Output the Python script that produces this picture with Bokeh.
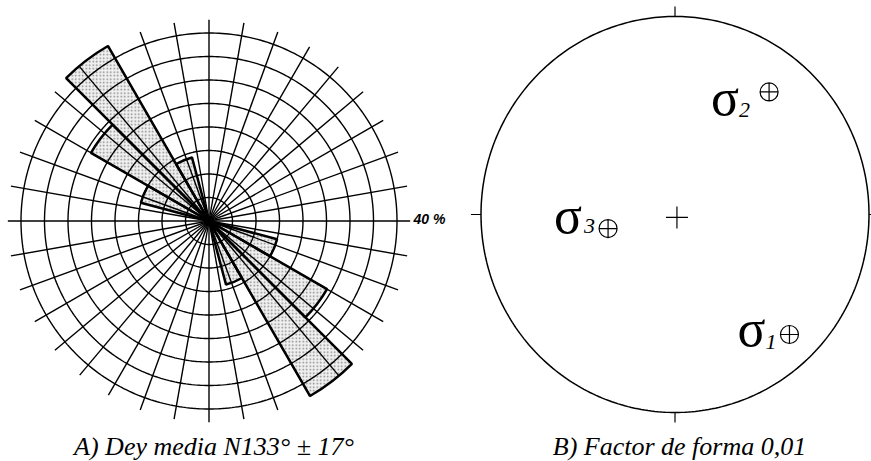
import numpy as np
from bokeh.plotting import figure
from bokeh.layouts import row
from bokeh.models import Range1d, ColumnDataSource
from bokeh.core.properties import value
from bokeh.embed import file_html
from bokeh.resources import INLINE

# ---------------- data ----------------
# Rose diagram (A): 15-degree azimuth bins (bidirectional), % of dykes
bin_start_az = [285, 300, 315, 330]
bin_width = 15
bin_pct = [15, 29, 43, 14]
ring_pct = [5, 10, 15, 20, 25, 30, 35, 40]   # concentric rings
spoke_az = list(range(0, 360, 10))          # radial grid lines
ring_label = "40 %"
caption_a = "A) Dey media N133° ± 17°"

# Stereonet (B): principal stress axes in projection coordinates (unit circle)
stress_sub = ["1", "2", "3"]
stress_x = [0.590, 0.485, -0.345]
stress_y = [-0.606, 0.619, -0.071]
caption_b = "B) Factor de forma 0,01"

# label placement (screen px, relative to the symbol)
sig_dx = [-24, -30, -26]
sig_dy = [-6, 6, -13]
sub_dx = [-24, -30, -24]
sub_dy = [8, 18, -3]

# ---------------- panel A: rose diagram ----------------
pa = figure(width=456, height=461, output_backend="svg", toolbar_location=None,
            x_range=Range1d(-44.362, 52.66), y_range=Range1d(-51.17, 46.915),
            x_axis_location=None, y_axis_location=None, min_border=0)
pa.outline_line_color = None
pa.grid.visible = False

az0 = np.array(bin_start_az + [a + 180 for a in bin_start_az], dtype=float)
pct = np.array(bin_pct + bin_pct, dtype=float)
wsrc = ColumnDataSource(dict(x=np.zeros_like(pct), y=np.zeros_like(pct), r=pct,
                             sa=90 - (az0 + bin_width), ea=90 - az0))
pa.wedge(x="x", y="y", radius="r", start_angle="sa", end_angle="ea",
         start_angle_units="deg", end_angle_units="deg", source=wsrc,
         fill_color="#f0f0f0", line_color=None,
         hatch_pattern="dot", hatch_color="#888888", hatch_scale=3.5, hatch_weight=1.0)

t = np.radians(np.arange(0, 361, 1.0))
pa.multi_line(xs=[list(r * np.sin(t)) for r in ring_pct], ys=[list(r * np.cos(t)) for r in ring_pct],
              line_color="black", line_width=1.4)
L = 42.8
sa = np.radians(np.array(spoke_az, dtype=float))
pa.segment(x0=0, y0=0, x1=L * np.sin(sa), y1=L * np.cos(sa),
           line_color="black", line_width=1.4)

pa.wedge(x="x", y="y", radius="r", start_angle="sa", end_angle="ea",
         start_angle_units="deg", end_angle_units="deg", source=wsrc,
         fill_color=None, line_color="black", line_width=2.5)
pa.scatter(x=[0], y=[0], size=9, marker="circle", fill_color="black", line_color="black")

pa.text(x=[43.5], y=[0.53], text=[ring_label], text_font=value("Liberation Sans"),
        text_font_style="bold italic", text_font_size="14px",
        text_baseline="middle", text_align="left", text_color="black")
pa.text(x=[1.06], y=[-47.98], text=[caption_a], text_font=value("Liberation Serif"),
        text_font_style="italic", text_font_size="26px",
        text_baseline="alphabetic", text_align="center", text_color="black")

# ---------------- panel B: stereonet ----------------
pb = figure(width=415, height=461, output_backend="svg", toolbar_location=None,
            x_range=Range1d(-1.1263, 1.01289), y_range=Range1d(-1.2475, 1.0808),
            x_axis_location=None, y_axis_location=None, min_border=0)
pb.outline_line_color = None
pb.grid.visible = False

pb.multi_line(xs=[list(np.sin(t))], ys=[list(np.cos(t))], line_color="black", line_width=1.5)
pb.segment(x0=[0, 0, -1, 1], y0=[1, -1, 0, 0], x1=[0, 0, -1.052, 1.052],
           y1=[1.05, -1.05, 0, 0], line_color="black", line_width=1.2)
pb.scatter(x=[0.01], y=[-0.015], marker="cross", size=22, line_color="black", line_width=1.2)

ssrc = ColumnDataSource(dict(x=stress_x, y=stress_y,
                             sig=["σ"] * len(stress_sub), sub=stress_sub,
                             sdx=sig_dx, sdy=sig_dy, bdx=sub_dx, bdy=sub_dy))
pb.scatter(x="x", y="y", source=ssrc, marker="circle_cross", size=18,
           fill_color=None, line_color="black", line_width=1.2)
pb.text(x="x", y="y", text="sig", source=ssrc, x_offset="sdx", y_offset="sdy",
        text_font=value("Liberation Serif"), text_font_size="52px",
        text_align="right", text_baseline="alphabetic", text_color="black")
pb.text(x="x", y="y", text="sub", source=ssrc, x_offset="bdx", y_offset="bdy",
        text_font=value("Liberation Serif"), text_font_style="italic", text_font_size="22px",
        text_align="left", text_baseline="alphabetic", text_color="black")

pb.text(x=[0.0232], y=[-1.1717], text=[caption_b], text_font=value("Liberation Serif"),
        text_font_style="italic", text_font_size="26px",
        text_baseline="alphabetic", text_align="center", text_color="black")

p = row(pa, pb)
open("out.html", "w").write(file_html(p, INLINE))
